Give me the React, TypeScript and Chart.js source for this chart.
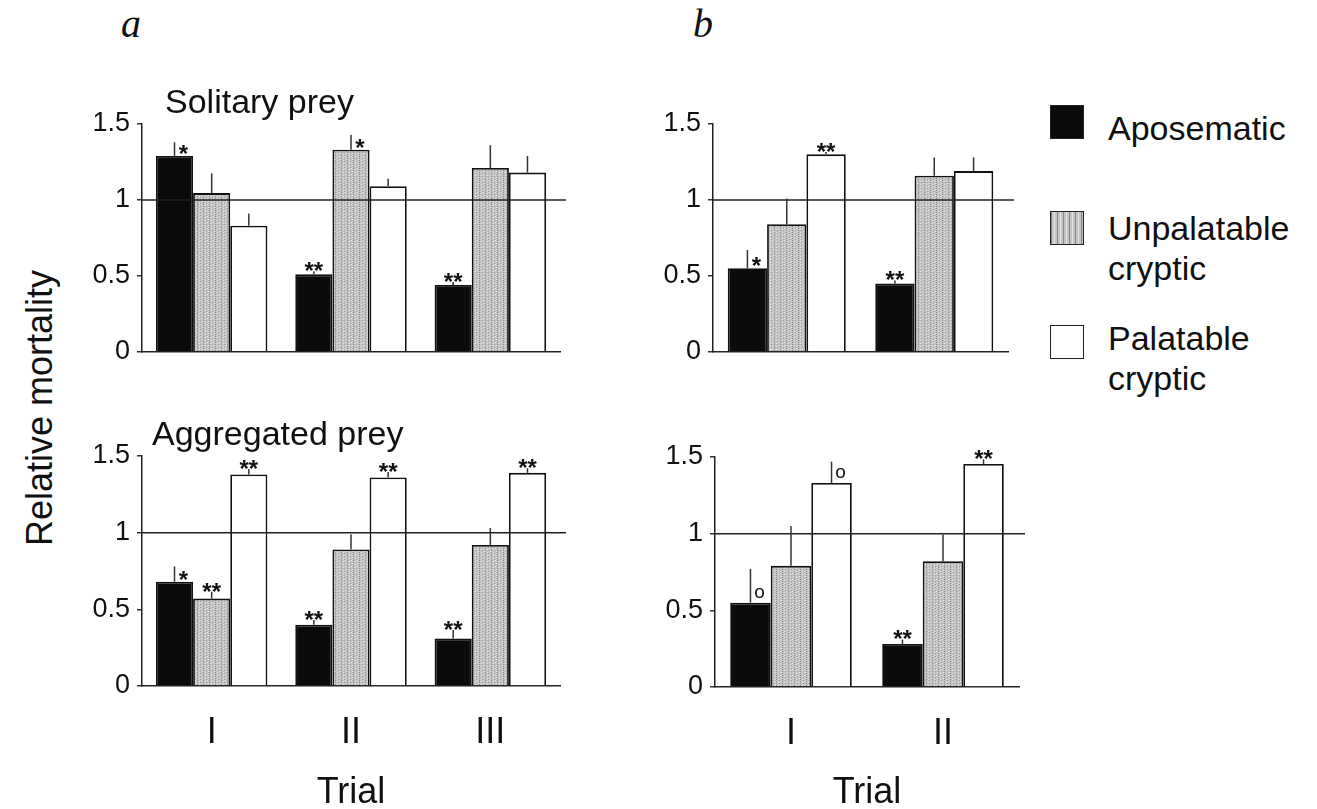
import React, { useEffect, useRef } from "react";
import { Chart, registerables } from "chart.js";

Chart.register(...registerables);

const FONT = "'Liberation Sans', Arial, Helvetica, sans-serif";
const SERIF = "'Liberation Serif', 'Times New Roman', serif";

// ---------- categories / labels ----------
const TRIALS_A = ["I", "II", "III"];
const TRIALS_B = ["I", "II"];
const SERIES = ["Aposematic", "Unpalatable cryptic", "Palatable cryptic"];
const Y_TICKS = [0, 0.5, 1, 1.5];
const X_TITLE = "Trial";
const Y_TITLE = "Relative mortality";
const PANEL_TITLES = ["Solitary prey", "Aggregated prey"];
const PANEL_LETTERS = ["a", "b"];

// ---------- a : solitary prey ----------
const A_SOL_APOS = [1.29, 0.51, 0.44];
const A_SOL_UNPAL = [1.045, 1.33, 1.21];
const A_SOL_PAL = [0.83, 1.09, 1.18];
const A_SOL_APOS_SE = [0.09, 0.02, 0.02];
const A_SOL_UNPAL_SE = [0.13, 0.1, 0.15];
const A_SOL_PAL_SE = [0.08, 0.05, 0.11];
const A_SOL_APOS_SIG = ["*", "**", "**"];
const A_SOL_UNPAL_SIG = ["", "*", ""];
const A_SOL_PAL_SIG = ["", "", ""];

// ---------- a : aggregated prey ----------
const A_AGG_APOS = [0.68, 0.4, 0.31];
const A_AGG_UNPAL = [0.57, 0.89, 0.92];
const A_AGG_PAL = [1.38, 1.36, 1.39];
const A_AGG_APOS_SE = [0.1, 0.03, 0.055];
const A_AGG_UNPAL_SE = [0.045, 0.1, 0.11];
const A_AGG_PAL_SE = [0.035, 0.035, 0.03];
const A_AGG_APOS_SIG = ["*", "**", "**"];
const A_AGG_UNPAL_SIG = ["**", "", ""];
const A_AGG_PAL_SIG = ["**", "**", "**"];

// ---------- b : solitary prey ----------
const B_SOL_APOS = [0.55, 0.45];
const B_SOL_UNPAL = [0.84, 1.16];
const B_SOL_PAL = [1.3, 1.19];
const B_SOL_APOS_SE = [0.12, 0.02];
const B_SOL_UNPAL_SE = [0.17, 0.12];
const B_SOL_PAL_SE = [0.015, 0.09];
const B_SOL_APOS_SIG = ["*", "**"];
const B_SOL_UNPAL_SIG = ["", ""];
const B_SOL_PAL_SIG = ["**", ""];

// ---------- b : aggregated prey ----------
const B_AGG_APOS = [0.55, 0.28];
const B_AGG_UNPAL = [0.79, 0.82];
const B_AGG_PAL = [1.33, 1.455];
const B_AGG_APOS_SE = [0.22, 0.03];
const B_AGG_UNPAL_SE = [0.26, 0.175];
const B_AGG_PAL_SE = [0.14, 0.03];
const B_AGG_APOS_SIG = ["o", "**"];
const B_AGG_UNPAL_SIG = ["", ""];
const B_AGG_PAL_SIG = ["o", "**"];

function makeStipple(): CanvasPattern | string {
  const c = document.createElement("canvas");
  c.width = 6;
  c.height = 6;
  const g = c.getContext("2d");
  if (!g) return "#bdbdbd";
  g.fillStyle = "#c4c4c4";
  g.fillRect(0, 0, 6, 6);
  g.fillStyle = "#8a8a8a";
  for (let yy = 0; yy < 6; yy += 2) g.fillRect(1, yy, 1, 1);
  g.fillStyle = "#a0a0a0";
  g.fillRect(4, 1, 1, 1);
  g.fillRect(4, 4, 1, 1);
  g.fillStyle = "#e6e6e6";
  g.fillRect(3, 0, 1, 1);
  g.fillRect(3, 3, 1, 1);
  g.fillRect(5, 2, 1, 1);
  g.fillRect(0, 5, 1, 1);
  const p = g.createPattern(c, "repeat");
  return p || "#bdbdbd";
}

const errSigPlugin = {
  id: "errSig",
  afterDatasetsDraw(chart: any) {
    const { ctx, chartArea } = chart;
    const y = chart.scales.y;
    ctx.save();
    // reference line at 1
    const y1 = y.getPixelForValue(1);
    ctx.strokeStyle = "#222";
    ctx.lineWidth = 1.5;
    ctx.beginPath();
    ctx.moveTo(chartArea.left, y1);
    ctx.lineTo(chartArea.right + 6, y1);
    ctx.stroke();

    chart.data.datasets.forEach((ds: any, i: number) => {
      const meta = chart.getDatasetMeta(i);
      meta.data.forEach((bar: any, j: number) => {
        const v = ds.data[j];
        const se = ds.se[j];
        const sig = ds.sig[j];
        const top = bar.y;
        const errTop = y.getPixelForValue(v + se);
        ctx.strokeStyle = "#333";
        ctx.lineWidth = 1.5;
        ctx.beginPath();
        ctx.moveTo(bar.x, top);
        ctx.lineTo(bar.x, errTop);
        ctx.stroke();
        ctx.fillStyle = "#111";
        ctx.textAlign = "center";
        ctx.textBaseline = "alphabetic";
        if (sig === "**") {
          const s = 24;
          ctx.font = `bold ${s}px ${FONT}`;
          const cy = Math.min(top, errTop) - 6;
          ctx.fillText("**", bar.x, cy + 0.58 * s);
        } else if (sig === "*") {
          const s = 24;
          ctx.font = `bold ${s}px ${FONT}`;
          const cy = top - 8;
          ctx.fillText("*", bar.x + 9, cy + 0.58 * s);
        } else if (sig === "o") {
          const s = 19;
          ctx.font = `${s}px ${FONT}`;
          const cy = top - 10;
          ctx.fillText("o", bar.x + 9, cy + 0.26 * s);
        }
      });
    });
    ctx.restore();
  },
};

type PanelProps = {
  left: number;
  top: number;
  plotW: number;
  plotH: number;
  xh: number;
  labels: string[];
  values: number[][];
  errs: number[][];
  sigs: string[][];
  showX: boolean;
};

const YW = 60;
const PT = 30;
const PR = 20;

function Panel(p: PanelProps) {
  const ref = useRef<HTMLCanvasElement | null>(null);
  const W = YW + p.plotW + PR;
  const H = PT + p.plotH + p.xh;
  useEffect(() => {
    if (!ref.current) return;
    const stipple = makeStipple();
    const fills = ["#0b0b0b", stipple, "#ffffff"];
    const chart = new Chart(ref.current, {
      type: "bar",
      data: {
        labels: p.labels,
        datasets: SERIES.map((name, i) => ({
          label: name,
          data: p.values[i],
          se: p.errs[i],
          sig: p.sigs[i],
          backgroundColor: fills[i],
          borderColor: "#111",
          borderWidth: 1.8,
          categoryPercentage: 0.8,
          barPercentage: 1,
        })) as any,
      },
      options: {
        animation: false,
        responsive: false,
        layout: { padding: { top: PT, right: PR, left: 0, bottom: 0 } },
        plugins: { legend: { display: false }, tooltip: { enabled: false } },
        scales: {
          x: {
            grid: { display: false, drawTicks: false },
            border: { display: true, color: "#222", width: 1.5 },
            ticks: {
              display: p.showX,
              font: { size: 36, family: FONT },
              color: "#111",
              padding: 25,
            },
            title: {
              display: p.showX,
              text: X_TITLE,
              font: { size: 36, family: FONT },
              color: "#111",
              padding: 0,
            },
            afterFit: (s: any) => {
              s.height = p.xh;
            },
          },
          y: {
            min: 0,
            max: 1.5,
            afterBuildTicks: (s: any) => {
              s.ticks = Y_TICKS.map((v) => ({ value: v }));
            },
            grid: {
              display: true,
              drawOnChartArea: false,
              drawTicks: true,
              tickLength: 5,
              color: "#333",
              lineWidth: 1.5,
            },
            border: { display: true, color: "#222", width: 1.5 },
            ticks: {
              font: { size: 27, family: FONT },
              color: "#111",
              padding: 7,
              callback: (v: any) => String(v),
            },
            afterFit: (s: any) => {
              s.width = YW;
            },
          },
        },
      } as any,
      plugins: [errSigPlugin],
    });
    return () => chart.destroy();
  }, []);
  return (
    <canvas
      ref={ref}
      width={W}
      height={H}
      style={{ position: "absolute", left: p.left - YW, top: p.top - PT, width: W, height: H }}
    />
  );
}

function txtTop(baseline: number, size: number, lh: number, k = 0.3465) {
  return baseline - lh / 2 - k * size;
}

const stippleCss =
  "repeating-linear-gradient(90deg, #8a8a8a 0px, #8a8a8a 1px, #c4c4c4 1px, #c4c4c4 3px, #e2e2e2 3px, #e2e2e2 4px, #c4c4c4 4px, #c4c4c4 6px)";

export default function App() {
  const legendSwatches = [
    { top: 105, style: { background: "#0b0b0b" } },
    { top: 211, style: { backgroundImage: stippleCss, backgroundColor: "#c4c4c4" } },
    { top: 325, style: { background: "#ffffff" } },
  ];
  const legendBaselines = [140, 240, 350];
  const legendLines = [["Aposematic"], ["Unpalatable", "cryptic"], ["Palatable", "cryptic"]];
  return (
    <div
      style={{
        position: "absolute",
        left: 0,
        top: 0,
        width: 1317,
        height: 809,
        overflow: "hidden",
        background: "#fff",
        fontFamily: FONT,
        color: "#111",
      }}
    >
      <Panel
        left={142}
        top={124}
        plotW={418}
        plotH={231}
        xh={20}
        labels={TRIALS_A}
        values={[A_SOL_APOS, A_SOL_UNPAL, A_SOL_PAL]}
        errs={[A_SOL_APOS_SE, A_SOL_UNPAL_SE, A_SOL_PAL_SE]}
        sigs={[A_SOL_APOS_SIG, A_SOL_UNPAL_SIG, A_SOL_PAL_SIG]}
        showX={false}
      />
      <Panel
        left={142}
        top={456}
        plotW={418}
        plotH={230}
        xh={129}
        labels={TRIALS_A}
        values={[A_AGG_APOS, A_AGG_UNPAL, A_AGG_PAL]}
        errs={[A_AGG_APOS_SE, A_AGG_UNPAL_SE, A_AGG_PAL_SE]}
        sigs={[A_AGG_APOS_SIG, A_AGG_UNPAL_SIG, A_AGG_PAL_SIG]}
        showX={true}
      />
      <Panel
        left={713}
        top={124}
        plotW={295}
        plotH={231}
        xh={20}
        labels={TRIALS_B}
        values={[B_SOL_APOS, B_SOL_UNPAL, B_SOL_PAL]}
        errs={[B_SOL_APOS_SE, B_SOL_UNPAL_SE, B_SOL_PAL_SE]}
        sigs={[B_SOL_APOS_SIG, B_SOL_UNPAL_SIG, B_SOL_PAL_SIG]}
        showX={false}
      />
      <Panel
        left={715}
        top={457}
        plotW={304}
        plotH={230}
        xh={128}
        labels={TRIALS_B}
        values={[B_AGG_APOS, B_AGG_UNPAL, B_AGG_PAL]}
        errs={[B_AGG_APOS_SE, B_AGG_UNPAL_SE, B_AGG_PAL_SE]}
        sigs={[B_AGG_APOS_SIG, B_AGG_UNPAL_SIG, B_AGG_PAL_SIG]}
        showX={true}
      />

      {/* panel letters */}
      {PANEL_LETTERS.map((l, i) => (
        <div
          key={l}
          style={{
            position: "absolute",
            left: i === 0 ? 121 : 693,
            top: txtTop(37, 40, 40, 0.3375),
            fontFamily: SERIF,
            fontStyle: "italic",
            fontSize: 40,
            lineHeight: "40px",
          }}
        >
          {l}
        </div>
      ))}

      {/* row titles */}
      <div style={{ position: "absolute", left: 165, top: txtTop(113, 34, 34), fontSize: 34, lineHeight: "34px", whiteSpace: "nowrap" }}>
        {PANEL_TITLES[0]}
      </div>
      <div style={{ position: "absolute", left: 152, top: txtTop(445, 34, 34), fontSize: 34, lineHeight: "34px", whiteSpace: "nowrap" }}>
        {PANEL_TITLES[1]}
      </div>

      {/* y title */}
      <div
        style={{
          position: "absolute",
          left: 40,
          top: 408,
          fontSize: 36,
          lineHeight: "36px",
          whiteSpace: "nowrap",
          transform: "translate(-50%, -50%) rotate(-90deg)",
        }}
      >
        {Y_TITLE}
      </div>

      {/* legend */}
      {legendSwatches.map((s, i) => (
        <div
          key={"sw" + i}
          style={{
            position: "absolute",
            left: 1050,
            top: s.top,
            width: 34,
            height: 34,
            boxSizing: "border-box",
            border: "1.5px solid #222",
            ...s.style,
          }}
        />
      ))}
      {legendLines.map((lines, i) => (
        <div
          key={"lg" + i}
          style={{
            position: "absolute",
            left: 1108,
            top: txtTop(legendBaselines[i], 34, 40),
            fontSize: 34,
            lineHeight: "40px",
            whiteSpace: "nowrap",
          }}
        >
          {lines.map((t, k) => (
            <div key={k}>{t}</div>
          ))}
        </div>
      ))}
    </div>
  );
}
